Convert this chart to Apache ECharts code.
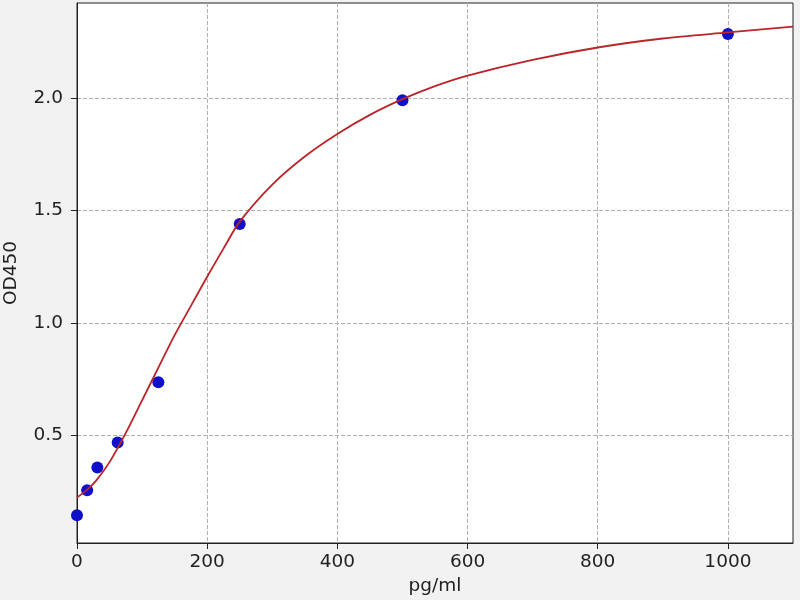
<!DOCTYPE html>
<html>
<head>
<meta charset="utf-8">
<script src="https://cdn.jsdelivr.net/npm/echarts@6/dist/echarts.min.js"></script>
<style>
html,body{margin:0;padding:0;background:#f2f2f2;}
#chart{width:800px;height:600px;}
</style>
</head>
<body>
<div id="chart"></div>
<script>
// Standard points
const pointX = [0, 15.625, 31.25, 62.5, 125, 250, 500, 1000];
const pointY = [0.144, 0.255, 0.356, 0.467, 0.735, 1.44, 1.99, 2.285];
// Fitted curve
const curveX = [0, 15, 30, 50, 75, 100, 125, 150, 175, 200, 225, 250, 300, 350, 400, 450, 500, 550, 600, 700, 800, 900, 1000, 1100];
const curveY = [0.223, 0.255, 0.30, 0.38, 0.51, 0.655, 0.80, 0.945, 1.075, 1.205, 1.33, 1.45, 1.615, 1.74, 1.84, 1.925, 1.995, 2.053, 2.10, 2.17, 2.225, 2.265, 2.292, 2.318];
// Tick labels
const xTicks = [0, 200, 400, 600, 800, 1000];
const yTicks = [0.5, 1.0, 1.5, 2.0];

const chart = echarts.init(document.getElementById('chart'));
const font = 'DejaVu Sans';
chart.setOption({
  backgroundColor: '#f2f2f2',
  animation: false,
  grid: {left: 77, right: 7, top: 3, bottom: 57, show: true, backgroundColor: '#ffffff', borderColor: '#222', borderWidth: 1,
    containLabel: false, outerBoundsMode: 'none'},
  xAxis: {
    type: 'value', min: 0, max: 1100,
    name: 'pg/ml', nameLocation: 'middle', nameGap: 34,
    nameTextStyle: {fontFamily: font, fontSize: 18.5, color: '#222'},
    axisLine: {show: true, onZero: false, lineStyle: {color: '#222', width: 1}},
    axisTick: {show: true, length: 6, customValues: xTicks, lineStyle: {color: '#222'}},
    axisLabel: {customValues: xTicks, fontFamily: font, fontSize: 18.5, color: '#222', margin: 10,
      formatter: v => String(v)},
    splitLine: {show: true, lineStyle: {color: '#b0b0b0', type: [4, 2], width: 1}}
  },
  yAxis: {
    type: 'value', min: 0.02, max: 2.423,
    name: 'OD450', nameLocation: 'middle', nameGap: 56,
    nameTextStyle: {fontFamily: font, fontSize: 18.5, color: '#222'},
    axisLine: {show: true, onZero: false, lineStyle: {color: '#222', width: 1}},
    axisTick: {show: true, length: 6, customValues: yTicks, lineStyle: {color: '#222'}},
    axisLabel: {customValues: yTicks, fontFamily: font, fontSize: 18.5, color: '#222', margin: 14,
      formatter: v => v.toFixed(1)},
    splitLine: {show: true, lineStyle: {color: '#b0b0b0', type: [4, 2], width: 1}}
  },
  series: [
    {
      type: 'scatter', data: pointX.map((x, i) => [x, pointY[i]]),
      symbol: 'circle', symbolSize: 12,
      itemStyle: {color: '#1010c8', opacity: 1},
      z: 2
    },
    {
      type: 'line', data: curveX.map((x, i) => [x, curveY[i]]),
      smooth: 0.3, showSymbol: false, symbol: 'none',
      lineStyle: {color: '#b8252a', width: 1.8},
      z: 3
    }
  ]
});
</script>
</body>
</html>
